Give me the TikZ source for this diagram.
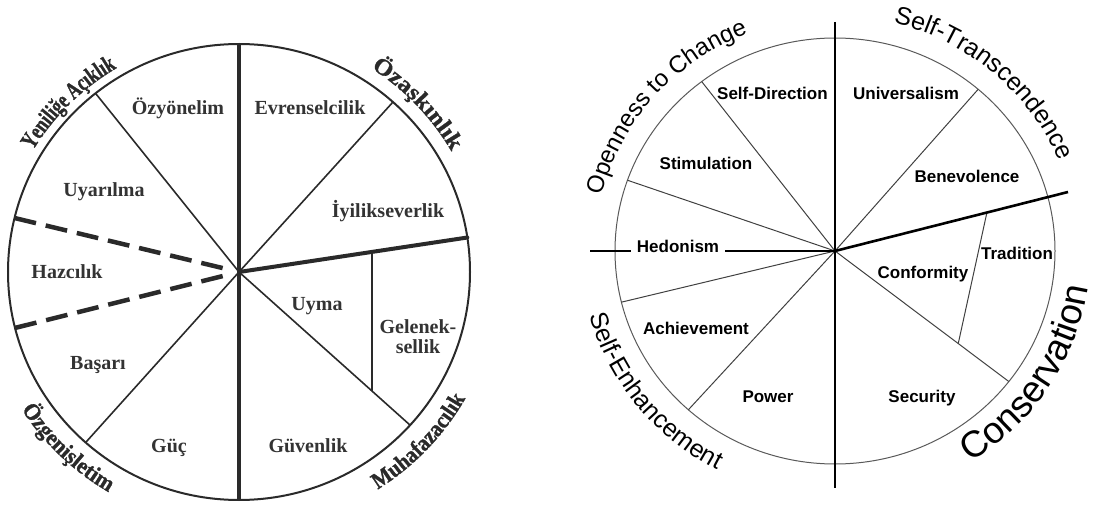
\documentclass[tikz,border=0pt]{standalone}
\usepackage{fontspec}
\setmainfont{Liberation Serif}
\setsansfont{Liberation Sans}
\newfontfamily\serifA[FakeStretch=0.72,FakeBold=1.2]{Liberation Serif Bold}
\newfontfamily\serifB[FakeStretch=1.1,FakeBold=1.2]{Liberation Serif Bold}
\newfontfamily\serifC[FakeStretch=0.95,FakeBold=1.2]{Liberation Serif Bold}
\newfontfamily\serifD[FakeStretch=0.9,FakeBold=1.2]{Liberation Serif Bold}
\usetikzlibrary{decorations.text,calc}
\definecolor{lgray}{HTML}{2A2A2A}
\definecolor{ltext}{HTML}{333333}
\begin{document}
\begin{tikzpicture}[x=1pt,y=1pt,
  lcirc/.style={draw=lgray,line width=2pt},
  lthin/.style={draw=lgray,line width=1.6pt},
  lthick/.style={draw=lgray,line width=4pt},
  ldash/.style={draw=lgray,line width=4.5pt,dash pattern=on 22pt off 10pt},
  llab/.style={font=\fontsize{20}{23}\selectfont\bfseries,text=ltext,inner sep=1pt,text height=0.68em,text depth=0.2em},
  rcirc/.style={draw=black!65,line width=1pt},
  rthin/.style={draw=black!75,line width=1pt},
  rthick/.style={draw=black,line width=2.6pt},
  rlab/.style={font=\sffamily\bfseries\fontsize{17}{20}\selectfont,inner sep=1pt,text height=0.72em,text depth=0.2em}
]
\useasboundingbox (0,0) rectangle (1095,504);

% ================= LEFT CIRCLE =================
\coordinate (L) at (239,232);
\draw[lcirc] (L) ellipse [x radius=231, y radius=228];
\coordinate (Ltop) at ($(L)+(90:231 and 228)$);
\coordinate (Lbot) at ($(L)+(270:231 and 228)$);
\coordinate (Lp1) at ($(L)+(128.4:231 and 228)$);
\coordinate (Lp2) at ($(L)+(48.2:231 and 228)$);
\coordinate (Lp3) at ($(L)+(228.4:231 and 228)$);
\coordinate (Lp4) at ($(L)+(-42.2:231 and 228)$);
\coordinate (Lrt) at ($(L)+(8.7:231 and 228)$);
\coordinate (Ld1) at ($(L)+(166.3:231 and 228)$);
\coordinate (Ld2) at ($(L)+(194.2:231 and 228)$);
\coordinate (Ld1e) at ($(L)!10pt!(Ld1)$);
\coordinate (Ld2e) at ($(L)!10pt!(Ld2)$);
\coordinate (g0) at (372,0);
\coordinate (g9) at (372,500);
\coordinate (Lg1) at (intersection of L--Lrt and g0--g9);
\coordinate (Lg2) at (intersection of L--Lp4 and g0--g9);

\draw[lthin] (L) -- (Lp1);
\draw[lthin] (L) -- (Lp2);
\draw[lthin] (L) -- (Lp3);
\draw[lthin] (L) -- (Lp4);
\draw[lthin] (Lg1) -- (Lg2);
\draw[ldash] (Ld1) -- (Ld1e);
\draw[ldash] (Ld2) -- (Ld2e);
\draw[lthick] (Ltop) -- (Lbot);
\draw[lthick,line cap=round] (L) -- (Lrt);

\node[llab] (oz) at (178,392) {Özyönelim};
\node[llab] (ev) at (310,392) {Evrenselcilik};
\node[llab] (uy) at (104,310) {Uyarılma};
\node[llab] (iy) at (388,289) {İyilikseverlik};
\node[llab] (hz) at (67,228) {Hazcılık};
\node[llab] (um) at (317,196) {Uyma};
\node[llab,align=center,text height=,text depth=] (gl) at (418,167) {Gelenek-\\[-3pt]sellik};
\node[llab] (bs) at (98,137) {Başarı};
\node[llab] (gu) at (169,54) {Güç};
\node[llab] (gv) at (308,54) {Güvenlik};

% curved labels (left)
\path[decorate,decoration={text along path,text align=center,
  text={|\serifA\fontsize{24}{28}\selectfont\color{lgray}|Yeniliğe Açıklık}}]
  ($(L)+(175:240 and 237)$) arc[start angle=175,end angle=95,x radius=240,y radius=237];
\path[decorate,decoration={text along path,text align=center,
  text={|\serifB\fontsize{23}{27}\selectfont\color{lgray}|Özaşkınlık}}]
  ($(L)+(83.5:245 and 242)$) arc[start angle=83.5,end angle=3.5,x radius=245,y radius=242];
\path[decorate,decoration={text along path,text align=center,
  text={|\serifC\fontsize{23}{27}\selectfont\color{lgray}|Özgenişletim}}]
  ($(L)+(186:258 and 255)$) arc[start angle=186,end angle=266,x radius=258,y radius=255];
\path[decorate,decoration={text along path,text align=center,
  text={|\serifD\fontsize{23}{27}\selectfont\color{lgray}|Muhafazacılık}}]
  ($(L)+(-83.5:260 and 257)$) arc[start angle=-83.5,end angle=-3.5,x radius=260,y radius=257];

% ================= RIGHT CIRCLE =================
\coordinate (R) at (835,253);
\draw[rcirc] (R) ellipse [x radius=220, y radius=213];
\coordinate (Rp1) at ($(R)+(127.3:220 and 213)$);
\coordinate (Rp2) at ($(R)+(160.6:220 and 213)$);
\coordinate (Rp3) at ($(R)+(193.9:220 and 213)$);
\coordinate (Rp4) at ($(R)+(228.2:220 and 213)$);
\coordinate (Rp5) at ($(R)+(49.4:220 and 213)$);
\coordinate (Rp6) at ($(R)+(-37.8:220 and 213)$);
\coordinate (Rrt) at (1068,312);
\coordinate (Rtop) at (835,482);
\coordinate (Rbot) at (835,16);
\coordinate (Rlf) at (590,253);
\coordinate (Rt1) at ($(R)!0.652!(Rrt)$);
\coordinate (Rt2) at ($(R)!0.709!(Rp6)$);

\draw[rthin] (R) -- (Rp1);
\draw[rthin] (R) -- (Rp2);
\draw[rthin] (R) -- (Rp3);
\draw[rthin] (R) -- (Rp4);
\draw[rthin] (R) -- (Rp5);
\draw[rthin] (R) -- (Rp6);
\draw[rthin] (Rt1) -- (Rt2);
\draw[rthick] (Rtop) -- (Rbot);
\draw[rthick] (R) -- (Rrt);
\draw[rthick] (Rlf) -- (R);

\node[rlab,anchor=west] (sd) at (716,407) {Self-Direction};
\node[rlab] (un) at (906,407) {Universalism};
\node[rlab] (st) at (706,337) {Stimulation};
\node[rlab] (be) at (967,324) {Benevolence};
\node[rlab,fill=white,inner xsep=6pt] (he) at (678,254) {Hedonism};
\node[rlab] (tr) at (1017,247) {Tradition};
\node[rlab] (co) at (923,228) {Conformity};
\node[rlab] (ac) at (696,172) {Achievement};
\node[rlab] (po) at (768,104) {Power};
\node[rlab] (se) at (922,104) {Security};

% curved labels (right)
\path[decorate,decoration={text along path,text align=center,
  text={|\sffamily\fontsize{24}{28}\selectfont|Openness to Change}}]
  ($(R)+(184:240 and 233)$) arc[start angle=184,end angle=94,x radius=240,y radius=233];
\path[decorate,decoration={text along path,text align=center,
  text={|\sffamily\fontsize{25}{29}\selectfont|Self-Transcendence}}]
  ($(R)+(94:242 and 235)$) arc[start angle=94,end angle=4,x radius=242,y radius=235];
\path[decorate,decoration={text along path,text align=center,
  text={|\sffamily\fontsize{25}{29}\selectfont|Self-Enhancement}}]
  ($(R)+(173.5:254 and 247)$) arc[start angle=173.5,end angle=263.5,x radius=254,y radius=247];
\path[decorate,decoration={text along path,text align=center,
  text={|\sffamily\fontsize{37}{43}\selectfont|Conservation}}]
  ($(R)+(-83:256 and 249)$) arc[start angle=-83,end angle=17,x radius=256,y radius=249];
\end{tikzpicture}
\end{document}
